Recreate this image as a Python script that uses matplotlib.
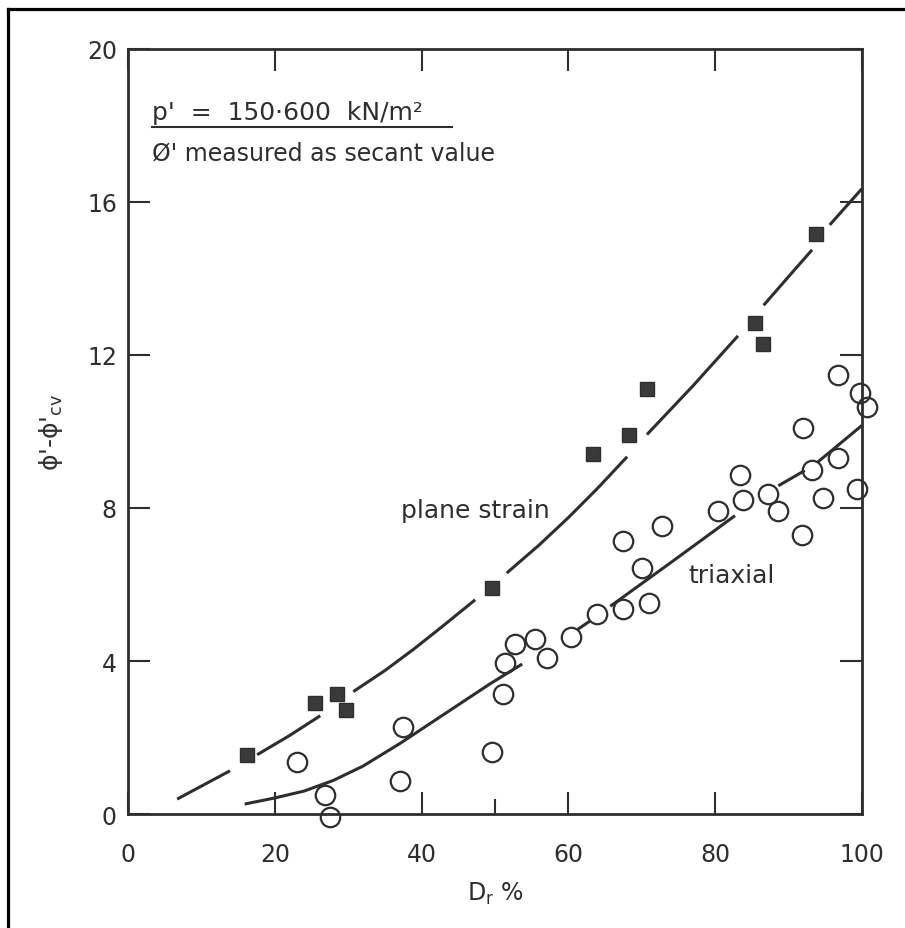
import matplotlib
matplotlib.use("Agg")
import matplotlib.pyplot as plt
from matplotlib.lines import Line2D


PLOT_IMAGE_NAME = "out.png"
INK = "#2e2e2e"

# plane strain tests (filled squares)
ps_dr = [16.2, 25.5, 28.5, 29.7, 49.6, 63.4, 68.3, 70.7, 85.4, 86.5, 93.7]
ps_dphi = [1.55, 2.9, 3.15, 2.73, 5.9, 9.4, 9.92, 11.1, 12.83, 12.28, 15.17]

# triaxial tests (open circles)
tx_dr = [23.0, 26.8, 27.5, 37.1, 37.5, 49.6, 51.1, 51.3, 52.7, 55.4, 57.1,
         60.4, 63.9, 67.4, 71.0, 70.0, 67.4, 72.8, 80.4, 83.8, 83.4, 87.2,
         88.6, 91.8, 93.2, 92.0, 94.7, 96.7, 99.3, 96.7, 99.7, 100.7]
tx_dphi = [1.37, 0.5, -0.08, 0.87, 2.28, 1.63, 3.15, 3.95, 4.44, 4.57, 4.09,
           4.62, 5.22, 5.35, 5.51, 6.43, 7.14, 7.53, 7.93, 8.2, 8.85, 8.37,
           7.93, 7.3, 9.0, 10.1, 8.27, 9.3, 8.5, 11.47, 11.0, 10.63]

ps_fit = [
    ([6.7, 13.9], [0.39, 1.13]),
    ([17.6, 22.0, 26.2], [1.55, 2.05, 2.57]),
    ([30.7, 35.0, 39.0, 43.0, 47.3], [3.2, 3.75, 4.32, 4.93, 5.6]),
    ([51.6, 56.0, 60.0, 64.0, 68.0], [6.3, 7.03, 7.75, 8.52, 9.34]),
    ([70.7, 77.0, 83.1], [9.92, 11.2, 12.5]),
    ([86.6, 90.0, 93.2], [13.3, 14.05, 14.75]),
    ([95.6, 100.0], [15.4, 16.35]),
]
tx_fit = [
    ([15.9, 20.0, 24.0, 28.0, 32.0, 37.1, 43.0, 49.3, 53.7],
     [0.26, 0.42, 0.6, 0.88, 1.25, 1.85, 2.6, 3.4, 3.92]),
    ([61.3, 62.9], [4.83, 5.04]),
    ([65.7, 74.0, 82.7], [5.43, 6.58, 7.8]),
    ([88.6, 92.2], [8.58, 8.98]),
    ([93.9, 100.0], [9.19, 10.16]),
]

x_ticks = [0, 20, 40, 60, 80, 100]
x_tick_labels = ["0", "20", "40", "60", "80", "100"]
y_ticks = [0, 4, 8, 12, 16, 20]


fig = plt.figure(figsize=(9.05, 9.29), dpi=100)
ax = fig.add_axes([0.1414, 0.1227, 0.8111, 0.8235])

for xs, ys in ps_fit:
    ax.plot(xs, ys, color=INK, lw=2.2, solid_capstyle="butt")
for xs, ys in tx_fit:
    ax.plot(xs, ys, color=INK, lw=2.2, solid_capstyle="butt")

ax.plot(ps_dr, ps_dphi, ls="none", marker="s", ms=10, color="#3a3a3a",
        mec=INK, clip_on=False, zorder=3)
ax.plot(tx_dr, tx_dphi, ls="none", marker="o", ms=14, mfc="none",
        mec=INK, mew=1.6, clip_on=False, zorder=3)

ax.set_xlim(0, 100)
ax.set_ylim(0, 20)
ax.set_xticks(x_ticks)
ax.set_xticklabels(x_tick_labels)
ax.set_xticks([50], minor=True)
ax.set_yticks(y_ticks)

ax.tick_params(which="major", direction="in", length=16, width=1.5,
               top=True, right=True, colors=INK, labelsize=17)
ax.tick_params(axis="x", which="major", pad=20)
ax.tick_params(axis="y", which="major", pad=8)
ax.tick_params(which="minor", direction="in", length=11, width=1.5,
               top=False, color=INK)
for sp in ax.spines.values():
    sp.set_linewidth(2.0)
    sp.set_color(INK)

ax.set_xlabel("D$_\\mathrm{r}$ %", fontsize=17, color=INK, labelpad=10)
ax.set_ylabel("ϕ'-ϕ'$_\\mathrm{cv}$", fontsize=18, color=INK, labelpad=16)

ax.text(37.2, 7.95, "plane strain", fontsize=18, color=INK, va="center")
ax.text(76.4, 6.25, "triaxial", fontsize=18, color=INK, va="center")

ax.text(3.3, 18.35, "p'  =  150·600  kN/m²", fontsize=18, color=INK,
        va="center")
ax.plot([3.3, 44.2], [17.96, 17.96], color=INK, lw=1.5)
ax.text(3.3, 17.3, "Ø' measured as secant value", fontsize=17,
        color=INK, va="center")

# border of the scanned page
fig.add_artist(Line2D([0.0088, 1.0], [0.989, 0.989], color="black", lw=2.3))
fig.add_artist(Line2D([0.0088, 0.0088], [0.0, 0.989], color="black", lw=2.3))

plt.savefig(PLOT_IMAGE_NAME)
